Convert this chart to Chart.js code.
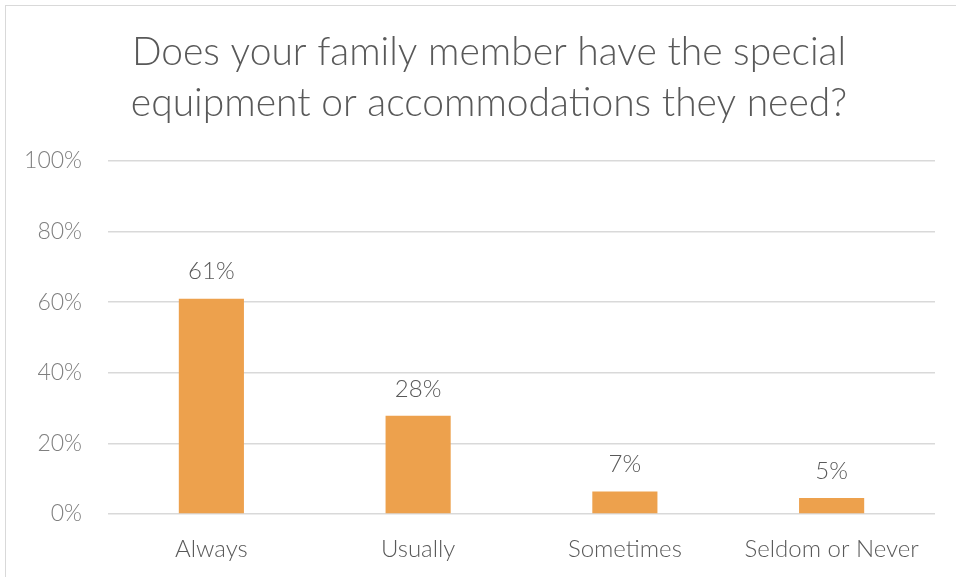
<!DOCTYPE html>
<html>
<head>
<meta charset="utf-8">
<script src="https://cdn.jsdelivr.net/npm/chart.js@4/dist/chart.umd.min.js"></script>
<style>
  html, body { margin: 0; padding: 0; background: #fff; overflow: hidden; }
  #wrap { position: relative; width: 956px; height: 577px; }
  #frame { position: absolute; left: 5px; top: 5px; width: 1000px; height: 700px; border: 1.5px solid #d9d9d9; box-sizing: border-box; }
  canvas { position: absolute; left: 0; top: 0; }
</style>
</head>
<body>
<div id="wrap">
  <div id="frame"></div>
  <canvas id="chart" width="956" height="577"></canvas>
</div>
<script>
// Data
const categories = ['Always', 'Usually', 'Sometimes', 'Seldom or Never'];
const shares = [61.0, 27.8, 6.4, 4.5];
const shareLabels = ['61%', '28%', '7%', '5%'];
const titleLines = ['Does your family member have the special', 'equipment or accommodations they need?'];

const fontFamily = "Lato, 'Noto Sans', sans-serif";

// title is centred on the outer frame, not on the canvas, so draw it here
const chartTitle = {
    id: 'chartTitle',
    afterDraw(chart) {
        const ctx = chart.ctx;
        ctx.save();
        ctx.font = '300 39px ' + fontFamily;
        ctx.fillStyle = '#595959';
        ctx.textAlign = 'center';
        ctx.textBaseline = 'middle';
        titleLines.forEach(function(line, i) {
            ctx.fillText(line, 489, 52 + i * 51);
        });
        ctx.restore();
    }
};

// simple value labels above the bars
const barLabels = {
    id: 'barLabels',
    afterDatasetsDraw(chart) {
        const ctx = chart.ctx;
        const meta = chart.getDatasetMeta(0);
        ctx.save();
        ctx.font = '300 24px ' + fontFamily;
        ctx.fillStyle = '#595959';
        ctx.textAlign = 'center';
        ctx.textBaseline = 'middle';
        meta.data.forEach(function(bar, i) {
            ctx.fillText(shareLabels[i], bar.x, bar.y - 27);
        });
        ctx.restore();
    }
};

const ctx = document.getElementById('chart').getContext('2d');
new Chart(ctx, {
    type: 'bar',
    data: {
        labels: categories,
        datasets: [{
            data: shares,
            backgroundColor: '#EDA14D',
            categoryPercentage: 1.0,
            barPercentage: 0.315
        }]
    },
    options: {
        responsive: false,
        animation: false,
        layout: { padding: { left: 0, right: 21, top: 161, bottom: 0 } },
        plugins: {
            legend: { display: false },
            tooltip: { enabled: false },
            title: { display: false }
        },
        scales: {
            x: {
                afterFit: function(scale) { scale.height = 63; },
                grid: { display: false, drawTicks: false },
                border: { display: false },
                ticks: {
                    color: '#595959',
                    font: { family: fontFamily, size: 24, weight: 300 },
                    padding: 21
                }
            },
            y: {
                min: 0,
                max: 100,
                afterFit: function(scale) { scale.width = 108; },
                border: { display: false },
                grid: { color: '#d9d9d9', lineWidth: 1.5, drawTicks: false },
                ticks: {
                    stepSize: 20,
                    color: '#7f7f7f',
                    padding: 26,
                    font: { family: fontFamily, size: 23, weight: 300 },
                    callback: function(v) { return v + '%'; }
                }
            }
        }
    },
    plugins: [barLabels, chartTitle]
});
</script>
</body>
</html>
